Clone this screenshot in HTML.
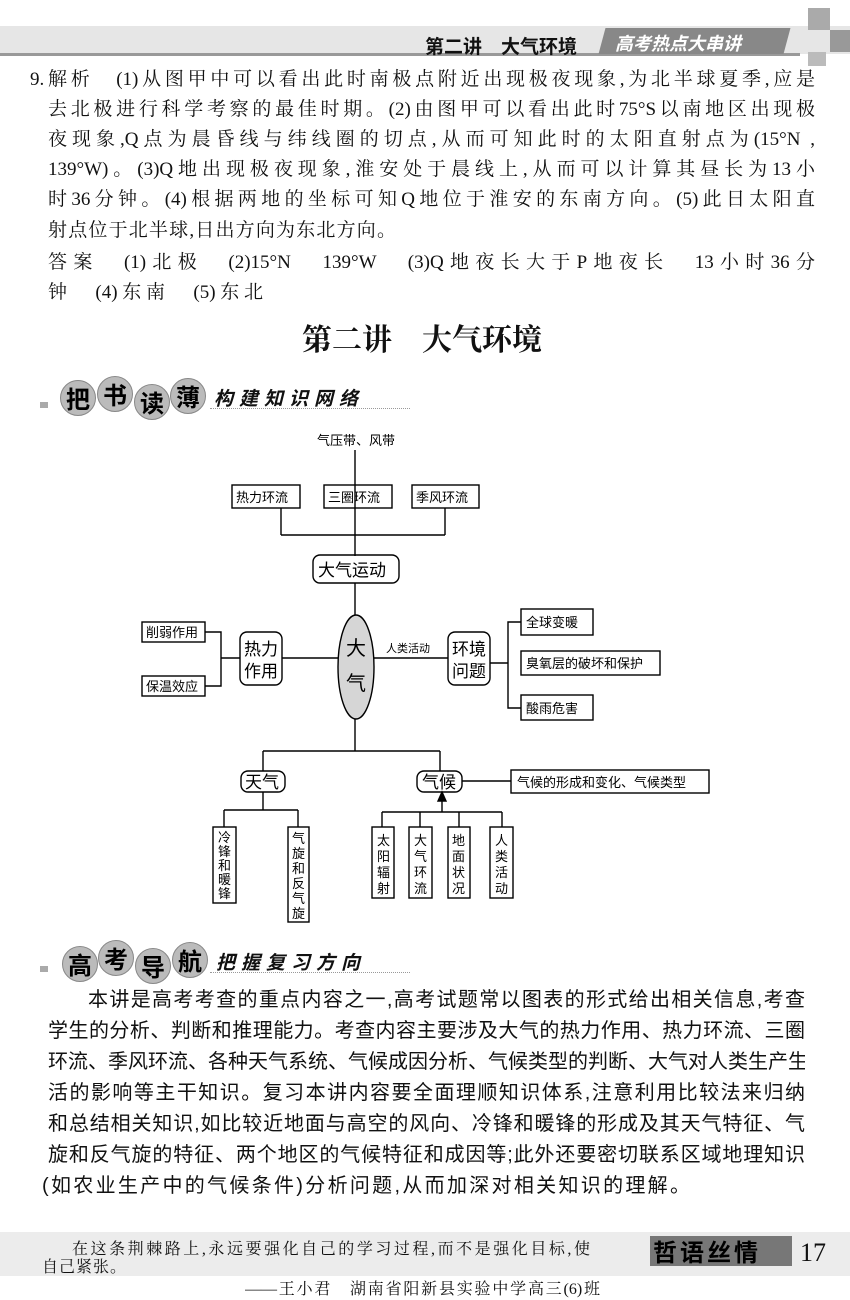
<!DOCTYPE html>
<html><head><meta charset="utf-8">
<style>
body{margin:0;width:850px;height:1300px;background:#fff;position:relative;overflow:hidden;font-family:"Liberation Serif","Noto Serif CJK SC",serif;color:#111}
.a{position:absolute;white-space:nowrap}
.j{position:absolute;text-align:justify;text-align-last:justify;white-space:nowrap;overflow:hidden}
.t{font-size:19px;height:26px;line-height:26px}
.p{font-size:20px;height:28px;line-height:28px;font-family:"Liberation Sans","Noto Sans CJK SC",sans-serif}
.c{position:absolute;width:34px;height:34px;border-radius:50%;background:#bbb;border:1px solid #888;font:bold 24px/34px "Noto Sans CJK SC",sans-serif;text-align:center;color:#000}
</style></head><body>
<!-- header -->
<div class="a" style="left:0;top:26px;width:850px;height:28px;background:#e6e6e6"></div>
<div class="a" style="left:0;top:53px;width:800px;height:3px;background:#999"></div>
<div class="a" style="left:425px;top:32px;font:bold 19px 'Noto Sans CJK SC',sans-serif">第二讲　大气环境</div>
<div class="a" style="left:602px;top:28px;width:185px;height:26px;background:#888;transform:skewX(-15deg)"></div>
<div class="a" style="left:615px;top:30px;font:italic bold 18px 'Noto Sans CJK SC',sans-serif;color:#fff">高考热点大串讲</div>
<div class="a" style="left:808px;top:8px;width:22px;height:22px;background:#aaa"></div>
<div class="a" style="left:830px;top:30px;width:20px;height:22px;background:#999"></div>
<div class="a" style="left:808px;top:52px;width:18px;height:14px;background:#bbb"></div>

<!-- answer text -->
<div class="j t" style="left:30px;top:67px;width:785px">9.解析　(1)从图甲中可以看出此时南极点附近出现极夜现象,为北半球夏季,应是</div>
<div class="j t" style="left:48px;top:97px;width:767px">去北极进行科学考察的最佳时期。(2)由图甲可以看出此时75°S以南地区出现极</div>
<div class="j t" style="left:48px;top:127px;width:767px">夜现象,Q点为晨昏线与纬线圈的切点,从而可知此时的太阳直射点为(15°N ,</div>
<div class="j t" style="left:48px;top:157px;width:767px">139°W)。(3)Q地出现极夜现象,淮安处于晨线上,从而可以计算其昼长为13小</div>
<div class="j t" style="left:48px;top:187px;width:767px">时36分钟。(4)根据两地的坐标可知Q地位于淮安的东南方向。(5)此日太阳直</div>
<div class="j t" style="left:48px;top:218px;width:348px">射点位于北半球,日出方向为东北方向。</div>
<div class="j t" style="left:48px;top:250px;width:767px">答案　(1)北极　(2)15°N　139°W　(3)Q地夜长大于P地夜长　13小时36分</div>
<div class="j t" style="left:48px;top:280px;width:215px">钟　(4)东南　(5)东北</div>

<div class="a" style="left:302px;top:315px;font:bold 30px 'Noto Serif CJK SC',serif">第二讲　大气环境</div>

<!-- section 1 -->
<div class="a" style="left:40px;top:402px;width:8px;height:6px;background:#aaa"></div>
<div class="c" style="left:60px;top:380px">把</div>
<div class="c" style="left:97px;top:376px">书</div>
<div class="c" style="left:134px;top:384px">读</div>
<div class="c" style="left:170px;top:378px">薄</div>
<div class="a" style="left:214px;top:384px;font:italic bold 19px 'Noto Sans CJK SC',sans-serif;letter-spacing:6px">构建知识网络</div>
<div class="a" style="left:210px;top:408px;width:200px;border-top:1px dotted #999"></div>

<!-- diagram -->
<svg class="a" style="left:0;top:0" width="850" height="1300" font-family="'Noto Sans CJK SC',sans-serif" font-size="13" fill="none" stroke="#000" stroke-width="1.4">
<g>
<line x1="355" y1="450" x2="355" y2="556"/>
<line x1="281" y1="508" x2="281" y2="535"/><line x1="445" y1="508" x2="445" y2="535"/>
<line x1="281" y1="535" x2="445" y2="535"/>
<rect x="232" y="485" width="68" height="23"/><rect x="324" y="485" width="68" height="23"/><rect x="412" y="485" width="67" height="23"/>
<rect x="313" y="555" width="86" height="28" rx="7"/>
<line x1="355" y1="583" x2="355" y2="615"/>
<ellipse cx="356" cy="667" rx="18" ry="52" fill="#d6d6d6"/>
<rect x="142" y="622" width="63" height="20"/><rect x="142" y="676" width="63" height="20"/>
<polyline points="205,632 221,632 221,686 205,686"/><line x1="221" y1="658" x2="240" y2="658"/>
<rect x="240" y="632" width="42" height="53" rx="7"/>
<line x1="282" y1="658" x2="338" y2="658"/>
<line x1="374" y1="658" x2="448" y2="658"/>
<rect x="448" y="632" width="42" height="53" rx="7"/>
<line x1="490" y1="663" x2="508" y2="663"/>
<polyline points="521,622 508,622 508,708 521,708"/>
<rect x="521" y="609" width="72" height="26"/><rect x="521" y="651" width="139" height="24"/><rect x="521" y="695" width="72" height="25"/>
<line x1="355" y1="719" x2="355" y2="751"/>
<line x1="263" y1="751" x2="440" y2="751"/>
<line x1="263" y1="751" x2="263" y2="771"/><line x1="440" y1="751" x2="440" y2="771"/>
<rect x="241" y="771" width="44" height="21" rx="7"/>
<rect x="417" y="771" width="45" height="21" rx="7"/>
<line x1="462" y1="781" x2="511" y2="781"/>
<rect x="511" y="770" width="198" height="23"/>
<line x1="263" y1="792" x2="263" y2="810"/>
<line x1="224" y1="810" x2="298" y2="810"/>
<line x1="224" y1="810" x2="224" y2="827"/><line x1="298" y1="810" x2="298" y2="827"/>
<rect x="213" y="827" width="23" height="76"/><rect x="288" y="827" width="21" height="95"/>
<line x1="442" y1="812" x2="442" y2="796"/>
<polygon points="438,801 446,801 442,792" fill="#000"/>
<line x1="382" y1="812" x2="502" y2="812"/>
<line x1="382" y1="812" x2="382" y2="827"/><line x1="420" y1="812" x2="420" y2="827"/><line x1="459" y1="812" x2="459" y2="827"/><line x1="502" y1="812" x2="502" y2="827"/>
<rect x="372" y="827" width="22" height="71"/><rect x="409" y="827" width="23" height="71"/><rect x="448" y="827" width="22" height="71"/><rect x="490" y="827" width="23" height="71"/>
</g>
<g fill="#000" stroke="none">
<text x="317" y="445">气压带、风带</text>
<text x="236" y="502">热力环流</text><text x="328" y="502">三圈环流</text><text x="416" y="502">季风环流</text>
<text x="318" y="576" font-size="17">大气运动</text>
<text x="346" y="655" font-size="20">大</text><text x="346" y="690" font-size="20">气</text>
<text x="146" y="637">削弱作用</text><text x="146" y="691">保温效应</text>
<text x="244" y="655" font-size="17">热力</text><text x="244" y="677" font-size="17">作用</text>
<text x="386" y="652" font-size="11">人类活动</text>
<text x="452" y="655" font-size="17">环境</text><text x="452" y="677" font-size="17">问题</text>
<text x="526" y="627">全球变暖</text><text x="526" y="668">臭氧层的破坏和保护</text><text x="526" y="713">酸雨危害</text>
<text x="245" y="788" font-size="17">天气</text><text x="422" y="788" font-size="17">气候</text>
<text x="517" y="787">气候的形成和变化、气候类型</text>
<g font-size="13">
<text x="218" y="842">冷</text><text x="218" y="856">锋</text><text x="218" y="870">和</text><text x="218" y="884">暖</text><text x="218" y="898">锋</text>
<text x="292" y="843">气</text><text x="292" y="858">旋</text><text x="292" y="873">和</text><text x="292" y="888">反</text><text x="292" y="903">气</text><text x="292" y="918">旋</text>
<text x="377" y="845">太</text><text x="377" y="861">阳</text><text x="377" y="877">辐</text><text x="377" y="893">射</text>
<text x="414" y="845">大</text><text x="414" y="861">气</text><text x="414" y="877">环</text><text x="414" y="893">流</text>
<text x="452" y="845">地</text><text x="452" y="861">面</text><text x="452" y="877">状</text><text x="452" y="893">况</text>
<text x="495" y="845">人</text><text x="495" y="861">类</text><text x="495" y="877">活</text><text x="495" y="893">动</text>
</g>
</g>
</svg>

<!-- section 2 -->
<div class="a" style="left:40px;top:966px;width:8px;height:6px;background:#aaa"></div>
<div class="c" style="left:62px;top:946px">高</div>
<div class="c" style="left:98px;top:940px">考</div>
<div class="c" style="left:135px;top:948px">导</div>
<div class="c" style="left:172px;top:942px">航</div>
<div class="a" style="left:216px;top:948px;font:italic bold 19px 'Noto Sans CJK SC',sans-serif;letter-spacing:6px">把握复习方向</div>
<div class="a" style="left:210px;top:972px;width:200px;border-top:1px dotted #999"></div>

<div class="j p" style="left:88px;top:986px;width:717px">本讲是高考考查的重点内容之一,高考试题常以图表的形式给出相关信息,考查</div>
<div class="j p" style="left:48px;top:1017px;width:757px">学生的分析、判断和推理能力。考查内容主要涉及大气的热力作用、热力环流、三圈</div>
<div class="j p" style="left:48px;top:1048px;width:757px">环流、季风环流、各种天气系统、气候成因分析、气候类型的判断、大气对人类生产生</div>
<div class="j p" style="left:48px;top:1079px;width:757px">活的影响等主干知识。复习本讲内容要全面理顺知识体系,注意利用比较法来归纳</div>
<div class="j p" style="left:48px;top:1110px;width:757px">和总结相关知识,如比较近地面与高空的风向、冷锋和暖锋的形成及其天气特征、气</div>
<div class="j p" style="left:48px;top:1141px;width:757px">旋和反气旋的特征、两个地区的气候特征和成因等;此外还要密切联系区域地理知识</div>
<div class="j p" style="left:42px;top:1172px;width:648px">(如农业生产中的气候条件)分析问题,从而加深对相关知识的理解。</div>

<!-- footer -->
<div class="a" style="left:0;top:1232px;width:850px;height:44px;background:#ececec"></div>
<div class="j" style="left:72px;top:1236px;width:518px;font-size:16px">在这条荆棘路上,永远要强化自己的学习过程,而不是强化目标,使</div>
<div class="a" style="left:42px;top:1254px;font-size:16px;letter-spacing:1px">自己紧张。</div>
<div class="a" style="left:650px;top:1236px;width:142px;height:30px;background:#777"></div>
<div class="a" style="left:653px;top:1236px;font:bold 24px/30px 'Noto Sans CJK SC',sans-serif;color:#000;letter-spacing:3px">哲语丝情</div>
<div class="a" style="left:800px;top:1238px;font-size:26px">17</div>
<div class="j" style="left:245px;top:1276px;width:355px;font-size:16px">——王小君　湖南省阳新县实验中学高三(6)班</div>
</body></html>
